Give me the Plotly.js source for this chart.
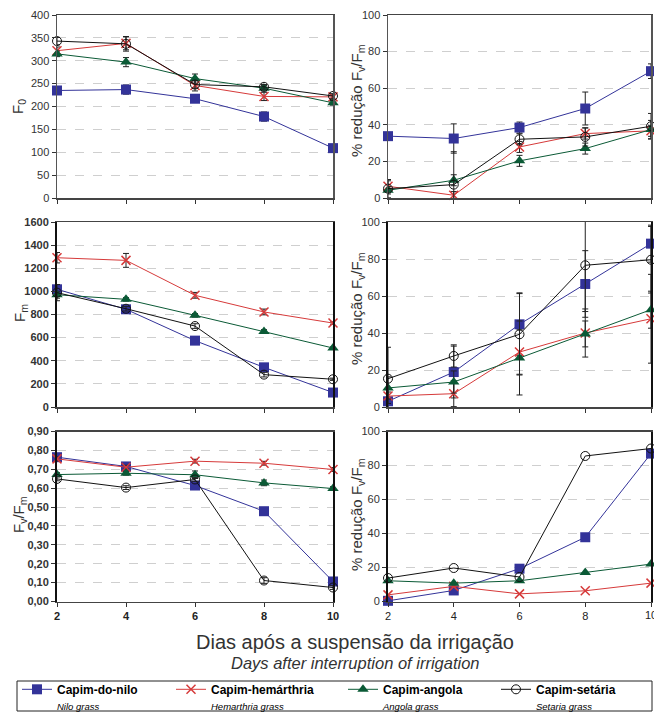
<!DOCTYPE html>
<html><head><meta charset="utf-8">
<script src="https://cdn.plot.ly/plotly-3.0.1.min.js"></script>
<style>html,body{margin:0;padding:0;background:#fff}#chart{width:654px;height:712px}</style>
</head><body><div id="chart"></div>
<script>
// ---------- data ----------
const days = [2, 4, 6, 8, 10];
const seriesNames = ['Capim-do-nilo', 'Capim-hemárthria', 'Capim-angola', 'Capim-setária'];
const seriesNamesEn = ['Nilo grass', 'Hemarthria grass', 'Angola grass', 'Setaria grass'];

// F0
const f0Nilo = [235, 237, 217, 178, 109];
const f0Hem  = [322, 338, 246, 222, 221];
const f0Ang  = [315, 297, 261, 240, 208];
const f0Set  = [343, 337, 248, 243, 223];
const f0NiloErr = [5, 10, 5, 10, 4];
const f0HemErr  = [8, 14, 12, 9, 6];
const f0AngErr  = [6, 10, 10, 6, 5];
const f0SetErr  = [8, 16, 8, 5, 5];

// % reduction (top right)
const r1Nilo = [33.8, 32.5, 38.5, 48.9, 69.3];
const r1Hem  = [6.4, 1.5, 27.9, 35.2, 36.7];
const r1Ang  = [4.2, 9.7, 20.3, 27.0, 37.4];
const r1Set  = [5.1, 7.3, 32.1, 33.4, 39.2];
const r1NiloErr = [2, 8, 3, 9, 4];
const r1HemErr  = [3, 2, 3, 3, 3];
const r1AngErr  = [2, 3, 3, 3, 5];
const r1SetErr  = [5, 18, 3, 5, 7];

// Fm
const fmNilo = [1018, 845, 574, 343, 125];
const fmHem  = [1291, 1268, 966, 822, 726];
const fmAng  = [971, 931, 793, 654, 510];
const fmSet  = [989, 850, 700, 280, 240];
const fmNiloErr = [30, 20, 15, 30, 10];
const fmHemErr  = [45, 60, 25, 25, 10];
const fmAngErr  = [30, 15, 15, 15, 10];
const fmSetErr  = [70, 20, 20, 20, 10];

// % reduction (middle right)
const r2Nilo = [3.1, 18.9, 44.7, 66.5, 88.3];
const r2Hem  = [5.9, 7.2, 29.7, 40.0, 47.7];
const r2Ang  = [10.3, 13.5, 26.5, 39.5, 52.6];
const r2Set  = [15.3, 27.6, 39.3, 76.6, 79.6];
const r2NiloErr = [5, 14, 17, 18, 10];
const r2HemErr  = [4, 7, 12, 13, 24];
const r2AngErr  = [6, 6, 20, 7, 10];
const r2SetErr  = [17, 6, 22, 25, 18];

// Fv/Fm
const fvNilo = [0.764, 0.715, 0.614, 0.478, 0.106];
const fvHem  = [0.755, 0.711, 0.743, 0.732, 0.699];
const fvAng  = [0.672, 0.679, 0.671, 0.628, 0.598];
const fvSet  = [0.649, 0.603, 0.646, 0.111, 0.074];
const fvNiloErr = [0.01, 0.01, 0.01, 0.01, 0.01];
const fvHemErr  = [0.01, 0.01, 0.01, 0.01, 0.01];
const fvAngErr  = [0.01, 0.01, 0.02, 0.015, 0.01];
const fvSetErr  = [0.01, 0.01, 0.01, 0.015, 0.01];

// % reduction (bottom right)
const r3Nilo = [0.4, 6.5, 19.3, 37.8, 87.0];
const r3Hem  = [3.9, 8.9, 4.5, 6.3, 10.8];
const r3Ang  = [12.2, 10.8, 12.2, 17.1, 22.0];
const r3Set  = [13.8, 19.7, 14.4, 85.6, 90.0];

// ---------- styles ----------
const W = 654, H = 712;
const px = p => p / W;
const py = p => 1 - p / H;
const styles = [
  {color: '#333399', symbol: 'square', size: 10, lw: 1, mline: {width: 0}},
  {color: '#d63a3a', symbol: 'x-thin', size: 9, lw: 1, mline: {width: 1.5, color: '#d63a3a'}},
  {color: '#0b5a36', symbol: 'triangle-up', size: 10, lw: 1, mline: {width: 0}},
  {color: '#111111', symbol: 'circle-open', size: 9, lw: 1, mline: {width: 1, color: '#111'}}
];
const legendIds = ['legend', 'legend2', 'legend3', 'legend4'];
const legendX = [17, 171, 343, 496];

const panels = [
  {ax: '', vals: [f0Nilo, f0Hem, f0Ang, f0Set], errs: [f0NiloErr, f0HemErr, f0AngErr, f0SetErr]},
  {ax: '2', vals: [r1Nilo, r1Hem, r1Ang, r1Set], errs: [r1NiloErr, r1HemErr, r1AngErr, r1SetErr]},
  {ax: '3', vals: [fmNilo, fmHem, fmAng, fmSet], errs: [fmNiloErr, fmHemErr, fmAngErr, fmSetErr]},
  {ax: '4', vals: [r2Nilo, r2Hem, r2Ang, r2Set], errs: [r2NiloErr, r2HemErr, r2AngErr, r2SetErr]},
  {ax: '5', vals: [fvNilo, fvHem, fvAng, fvSet], errs: [fvNiloErr, fvHemErr, fvAngErr, fvSetErr]},
  {ax: '6', vals: [r3Nilo, r3Hem, r3Ang, r3Set], errs: null}
];

const traces = [];
panels.forEach((p, pi) => {
  p.vals.forEach((v, si) => {
    const s = styles[si];
    const t = {
      type: 'scatter', mode: 'lines+markers', x: days, y: v,
      xaxis: 'x' + p.ax, yaxis: 'y' + p.ax, cliponaxis: false,
      line: {color: s.color, width: s.lw},
      marker: {color: s.color, symbol: s.symbol, size: s.size, line: s.mline},
      name: '<b>' + seriesNames[si] + '</b><br><span style="font-size:9.5px"><i>' + seriesNamesEn[si] + '</i></span>',
      showlegend: pi === 0, legend: legendIds[si], hoverinfo: 'x+y'
    };
    if (p.errs) t.error_y = {type: 'data', array: p.errs[si], visible: true, color: '#222', thickness: 1, width: 3};
    traces.push(t);
  });
});

const font = {family: 'Liberation Sans, Arial, sans-serif'};
function xax(domain, anchor, labels, bold) {
  return {domain: domain, anchor: anchor, range: [2, 10], tickvals: days, showticklabels: labels,
    ticks: 'outside', ticklen: 4, tickcolor: '#333', showgrid: false, zeroline: false,
    showline: true, linecolor: '#444', linewidth: 1.5, mirror: true,
    tickfont: {family: font.family, size: 11, color: '#222', weight: bold ? 'bold' : 'normal'}};
}
function yax(domain, anchor, range, dtick, bold, fmt, lw) {
  return {domain: domain, anchor: anchor, range: range, dtick: dtick, tick0: 0,
    ticks: 'outside', ticklen: 4, tickcolor: '#333', showgrid: true, gridcolor: '#cfcfcf', griddash: 'dash', gridwidth: 1,
    zeroline: false, showline: true, linecolor: lw > 1.5 ? '#111' : '#555', linewidth: lw, mirror: true,
    tickformat: fmt || '', tickfont: {family: font.family, size: 11, color: '#333', weight: bold ? 'bold' : 'normal'}};
}
const L = [px(57), px(333)], R = [px(388), px(651)];
const T = [py(198), py(15)], M = [py(407), py(222)], B = [py(601.5), py(431.5)];

const ann = (x, y, text, size, angle, extra) => Object.assign({xref: 'paper', yref: 'paper', x: px(x), y: py(y),
  text: text, showarrow: false, textangle: angle, xanchor: 'center', yanchor: 'middle',
  font: {family: font.family, size: size, color: '#333'}}, extra || {});

const legendStyle = x => ({orientation: 'h', x: px(x), xanchor: 'left', y: py(675), yanchor: 'top',
  borderwidth: 0, bgcolor: 'rgba(0,0,0,0)', valign: 'top', itemwidth: 30, tracegroupgap: 0,
  font: {family: font.family, size: 12, color: '#000'}});

const layout = {
  width: W, height: H, margin: {l: 0, r: 0, t: 0, b: 0, autoexpand: false}, paper_bgcolor: '#fff', plot_bgcolor: '#fff',
  separators: ',.', font: font, showlegend: true,
  xaxis: xax(L, 'y', false, false), yaxis: yax(T, 'x', [0, 400], 50, false, '', 1.5),
  xaxis2: xax(R, 'y2', false, false), yaxis2: yax(T, 'x2', [0, 100], 20, false, '', 1.5),
  xaxis3: xax(L, 'y3', false, false), yaxis3: yax(M, 'x3', [0, 1600], 200, true, '', 2),
  xaxis4: xax(R, 'y4', false, false), yaxis4: yax(M, 'x4', [0, 100], 20, false, '', 2),
  xaxis5: xax(L, 'y5', true, true), yaxis5: yax(B, 'x5', [0, 0.9], 0.1, true, '.2f', 2),
  xaxis6: xax(R, 'y6', true, false), yaxis6: yax(B, 'x6', [0, 100], 20, false, '', 2),
  shapes: [{type: 'rect', xref: 'paper', yref: 'paper', x0: px(17), x1: px(652), y0: py(711), y1: py(681),
    line: {color: '#222', width: 1}, fillcolor: 'rgba(0,0,0,0)'}],
  annotations: [
    ann(18, 107, 'F<sub>0</sub>', 15, -90),
    ann(20, 313, 'F<sub>m</sub>', 15, -90),
    ann(19, 515, 'F<sub>v</sub>/F<sub>m</sub>', 15, -90),
    ann(357, 100, '% redução F<sub>v</sub>/F<sub>m</sub>', 15, -90),
    ann(357, 308, '% redução F<sub>v</sub>/F<sub>m</sub>', 15, -90),
    ann(357, 514, '% redução F<sub>v</sub>/F<sub>m</sub>', 15, -90),
    ann(355, 642, 'Dias após a suspensão da irrigação', 20, 0),
    ann(355, 663, '<i>Days after interruption of irrigation</i>', 16.5, 0),
    {xref: 'x6', yref: 'paper', x: days[days.length - 1], y: py(607), yanchor: 'top', xanchor: 'center',
     text: String(days[days.length - 1]), showarrow: false, font: {family: font.family, size: 11, color: '#222'}}
  ],
  legend: legendStyle(legendX[0]),
  legend2: legendStyle(legendX[1]),
  legend3: legendStyle(legendX[2]),
  legend4: legendStyle(legendX[3])
};

Plotly.newPlot('chart', traces, layout, {displayModeBar: false, staticPlot: true});
</script></body></html>
